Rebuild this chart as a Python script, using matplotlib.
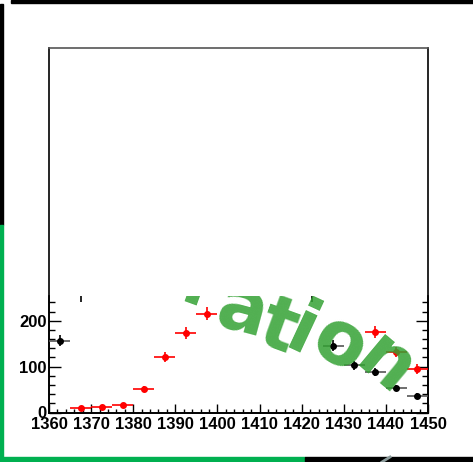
import numpy as np
import matplotlib
matplotlib.use("Agg")
import matplotlib.pyplot as plt
from matplotlib.patches import Rectangle
from matplotlib.lines import Line2D
from matplotlib.ticker import MultipleLocator
from matplotlib.transforms import IdentityTransform
from matplotlib.font_manager import FontProperties

# bin centres, counts and uncertainties
red_x = [1367.5, 1372.5, 1377.5, 1382.5, 1387.5, 1392.5, 1397.5, 1437.5, 1442.5, 1447.5]
red_y = [9, 13, 17, 51, 121, 173, 215, 176, 131, 95]
red_err = [3, 4, 4, 6, 11, 13, 14, 13, 11, 10]

black_x = [1362.5, 1367.5, 1422.5, 1427.5, 1432.5, 1437.5, 1442.5, 1447.5]
black_y = [156, 266, 263, 146, 103, 88, 54, 36]
black_err = [12, 24, 23, 12, 10, 9, 7, 6]

bin_half = 2.5
x_range = (1360, 1450)
y_range = (0, 254)

# curved watermark: letters, glyph centres (pixels from top-left), tilt
wm_letters = ["l", "a", "t", "i", "o", "n"]
wm_cx = [199, 243, 280, 302, 340, 385]
wm_cy = [280, 311, 324, 333, 345, 366]
wm_half_h = [27, 21, 26, 21, 21, 21]
wm_rot = [-20, -15, -20, -25, -30, -40]

W, H = 473, 462
fig = plt.figure(figsize=(W / 100, H / 100), dpi=100)
fig.patch.set_facecolor("white")

# canvas border strips
def strip(x, y, w, h, c):
    fig.patches.append(Rectangle((x / W, 1 - (y + h) / H), w / W, h / H,
                                 transform=fig.transFigure, color=c, zorder=0))

strip(11, 0, 462, 3, "black")
strip(0, 4, 3, 221, "black")
strip(0, 225, 3, 237, "#00b050")
strip(0, 457, 305, 5, "#00b050")
strip(305, 457, 168, 5, "black")
fig.lines.append(Line2D([382 / W, 390 / W], [0, 5 / H], transform=fig.transFigure,
                        color="#8a9a9a", lw=2))

left, right = 49, 428
top_outer, top_inner, bottom = 48, 296, 412.5

# outer empty frame
outer = fig.add_axes([left / W, 1 - bottom / H, (right - left) / W, (bottom - top_outer) / H])
outer.set_xticks([])
outer.set_yticks([])
outer.spines["top"].set_color("#555555")
for s in outer.spines.values():
    s.set_linewidth(1.2)

# data pad
ax = fig.add_axes([left / W, 1 - bottom / H, (right - left) / W, (bottom - top_inner) / H])
ax.patch.set_alpha(0)
ax.spines["top"].set_visible(False)
for s in ["left", "right", "bottom"]:
    ax.spines[s].set_linewidth(1.2)
ax.set_xlim(*x_range)
ax.set_ylim(*y_range)
ax.xaxis.set_major_locator(MultipleLocator(10))
ax.xaxis.set_minor_locator(MultipleLocator(2))
ax.yaxis.set_major_locator(MultipleLocator(100))
ax.yaxis.set_minor_locator(MultipleLocator(20))
ax.tick_params(axis="x", which="both", direction="in", top=False)
ax.tick_params(axis="y", which="both", direction="in", left=True, right=True)
ax.tick_params(axis="x", which="major", length=6.5, width=1, pad=3)
ax.tick_params(axis="x", which="minor", length=3.2, width=1)
ax.tick_params(axis="y", which="major", length=8.5, width=1, pad=1.5)
ax.tick_params(axis="y", which="minor", length=4.2, width=1)
for lab in ax.get_xticklabels() + ax.get_yticklabels():
    lab.set_fontfamily("Liberation Sans")
    lab.set_fontweight("bold")
    lab.set_fontsize(12)

ax.errorbar(red_x, red_y, xerr=bin_half, yerr=red_err, fmt="o", color="red",
            ecolor="red", ms=4, elinewidth=1.2, capsize=0, zorder=3)
ax.errorbar(black_x, black_y, xerr=bin_half, fmt="none", ecolor="#555555",
            elinewidth=1.2, capsize=0, zorder=3)
ax.errorbar(black_x, black_y, yerr=black_err, fmt="o", color="black",
            ecolor="black", ms=4, elinewidth=1.2, capsize=0, zorder=3)

# watermark letters sit on their baselines, clipped to the data pad
fp = FontProperties(family="DejaVu Sans", weight="bold", size=53)
for ch, cx, cy, hh, rot in zip(wm_letters, wm_cx, wm_cy, wm_half_h, wm_rot):
    t = np.deg2rad(rot)
    bx = cx + hh * np.sin(t)
    by = cy + hh * np.cos(t)
    ax.text(bx, H - by, ch, transform=IdentityTransform(), fontproperties=fp,
            color=(0.2, 0.63, 0.2), alpha=0.85, ha="center", va="baseline",
            rotation=rot, rotation_mode="anchor", clip_on=True, zorder=5)

fig.savefig("out.png", dpi=100)
